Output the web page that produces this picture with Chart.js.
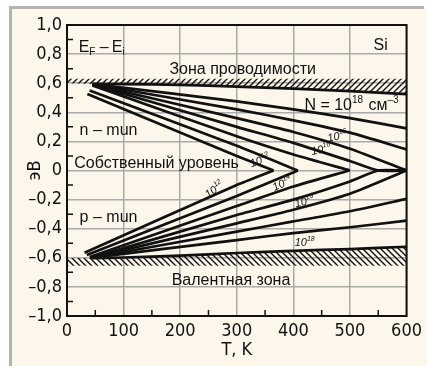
<!DOCTYPE html>
<html><head><meta charset="utf-8">
<script src="https://cdn.jsdelivr.net/npm/chart.js@4.4.0/dist/chart.umd.min.js"></script>
<style>html,body{margin:0;padding:0;background:#fff;}#wrap{width:427px;height:366px;position:relative;}</style>
</head><body><div id="wrap"><canvas id="c" width="427" height="366"></canvas></div>
<script>
// ---------- data ----------
const xTickLabels = ['0','100','200','300','400','500','600'];
const yTickLabels = ['–1,0','–0,8','–0,6','–0,4','–0,2','0','0,2','0,4','0,6','0,8','1,0'];
const xMinorTicks = [50,150,250,350,450,550];
const yMinorTicks = [-0.9,-0.7,-0.5,-0.3,-0.1,0.1,0.3,0.5,0.7,0.9];

// band edges (eV) vs T (K)
const bandT     = [0, 45, 100, 200, 300, 400, 500, 600];
const condBand  = [0.6, 0.595, 0.594, 0.588, 0.577, 0.563, 0.545, 0.525];
const valBand   = [-0.602, -0.602, -0.598, -0.585, -0.567, -0.552, -0.54, -0.524];
const hatchT    = [0, 600];
const hatchTopE = [0.63, 0.63];
const hatchBotE = [-0.655, -0.655];

// n-type branches, N = 1e12 ... 1e18
const n12T = [36, 300, 365],                 n12E = [0.525, 0.10, 0];
const n13T = [40, 300, 408],                 n13E = [0.55, 0.17, 0];
const n14T = [45, 300, 400, 500],            n14E = [0.585, 0.235, 0.11, 0];
const n15T = [45, 300, 400, 500, 550, 600],  n15E = [0.59, 0.30, 0.19, 0.065, 0, 0];
const n16T = [45, 300, 400, 500, 600],       n16E = [0.592, 0.36, 0.265, 0.15, 0];
const n17T = [45, 300, 400, 500, 600],       n17E = [0.593, 0.42, 0.345, 0.26, 0.145];
const n18T = [45, 300, 400, 500, 600],       n18E = [0.594, 0.475, 0.42, 0.36, 0.29];
// p-type branches
const p12T = [31, 300, 365],                 p12E = [-0.565, -0.10, 0];
const p13T = [35, 300, 408],                 p13E = [-0.58, -0.175, 0];
const p14T = [40, 300, 400, 499],            p14E = [-0.595, -0.244, -0.11, 0];
const p15T = [42, 300, 400, 500, 550, 600],  p15E = [-0.6, -0.306, -0.2, -0.075, 0, 0];
const p16T = [42, 300, 400, 500, 600],       p16E = [-0.6, -0.363, -0.27, -0.16, 0];
const p17T = [42, 300, 400, 500, 600],       p17E = [-0.6, -0.42, -0.35, -0.28, -0.195];
const p18T = [42, 300, 400, 500, 600],       p18E = [-0.6, -0.478, -0.43, -0.39, -0.345];

// text annotations (kind: 0 normal, 1 subscript, 2 superscript)
const textLabels = [
  {parts:[['E',0],['F',1],['\u2009–\u2009E',0],['i',1]], t:20.6, v:0.816},
  {parts:[['Si',0]], t:541.7, v:0.828},
  {parts:[['Зона проводимости',0]], t:181, v:0.663},
  {parts:[['N = 10',0],['18',2],[' см',0],['–3',2]], t:419.5, v:0.416},
  {parts:[['n – mun',0]], t:22.3, v:0.244},
  {parts:[['Собственный уровень',0]], t:12.9, v:0.015},
  {parts:[['p – mun',0]], t:22.3, v:-0.352},
  {parts:[['Валентная зона',0]], t:185, v:-0.787}
];
const curveLabels = [
  {base:'10', exp:'12', t:341, v:0.065, angle:-20},
  {base:'10', exp:'16', t:478, v:0.232, angle:-12},
  {base:'10', exp:'16', t:449, v:0.141, angle:-12},
  {base:'10', exp:'12', t:260.6, v:-0.134, angle:-35},
  {base:'10', exp:'14', t:380.6, v:-0.093, angle:-25},
  {base:'10', exp:'16', t:420, v:-0.216, angle:-15},
  {base:'10', exp:'18', t:420, v:-0.498, angle:0}
];

// ---------- helpers ----------
function pts(T, E){ return T.map((t,i)=>({x:t, y:E[i]})); }
function hatch(dir){
  const c = document.createElement('canvas'); c.width = 6; c.height = 6;
  const g = c.getContext('2d'); g.strokeStyle = '#111'; g.lineWidth = 1.4; g.beginPath();
  if (dir > 0){ g.moveTo(0,6); g.lineTo(6,0); g.moveTo(-1,1); g.lineTo(1,-1); g.moveTo(5,7); g.lineTo(7,5); }
  else { g.moveTo(0,0); g.lineTo(6,6); g.moveTo(-1,5); g.lineTo(1,7); g.moveTo(5,-1); g.lineTo(7,1); }
  g.stroke(); return g.createPattern(c, 'repeat');
}
const LINE = '#111';
function curve(T,E){ return {data:pts(T,E), borderColor:LINE, borderWidth:2.7, pointRadius:0, tension:0.2, fill:false}; }

const datasets = [
  {data:pts(bandT,condBand), borderWidth:0, borderColor:'rgba(0,0,0,0)', pointRadius:0, fill:false},
  {data:pts(hatchT,hatchTopE), borderWidth:0, borderColor:'rgba(0,0,0,0)', pointRadius:0, fill:'-1', backgroundColor:hatch(1)},
  {data:pts(bandT,valBand), borderWidth:0, borderColor:'rgba(0,0,0,0)', pointRadius:0, fill:false},
  {data:pts(hatchT,hatchBotE), borderWidth:0, borderColor:'rgba(0,0,0,0)', pointRadius:0, fill:'-1', backgroundColor:hatch(-1)},
  curve(bandT.slice(1), condBand.slice(1)),
  curve(bandT.slice(1), valBand.slice(1)),
  curve(n12T,n12E), curve(n13T,n13E), curve(n14T,n14E), curve(n15T,n15E),
  curve(n16T,n16E), curve(n17T,n17E), curve(n18T,n18E),
  curve(p12T,p12E), curve(p13T,p13E), curve(p14T,p14E), curve(p15T,p15E),
  curve(p16T,p16E), curve(p17T,p17E), curve(p18T,p18E)
];

const NARROW = '"Liberation Sans Narrow","DejaVu Sans Condensed","Arial Narrow",sans-serif';
const SANS = '"Liberation Sans",Arial,sans-serif';

const decor = {
  id:'decor',
  beforeDraw(chart){
    const ctx = chart.ctx; ctx.save();
    ctx.fillStyle = '#ffffff'; ctx.fillRect(0,0,427,366);
    ctx.fillStyle = '#fdf6ea'; ctx.fillRect(12,9,415,357);
    ctx.fillStyle = '#b3b3b3'; ctx.fillRect(9,6,415,3); ctx.fillRect(9,6,3,360);
    ctx.restore();
  },
  afterDatasetsDraw(chart){
    const ctx = chart.ctx, a = chart.chartArea, xs = chart.scales.x, ys = chart.scales.y;
    ctx.save();
    // minor ticks
    ctx.strokeStyle = '#111'; ctx.lineWidth = 1.5; ctx.beginPath();
    xMinorTicks.forEach(t=>{ const px = xs.getPixelForValue(t); ctx.moveTo(px,a.bottom); ctx.lineTo(px,a.bottom-6); });
    yMinorTicks.forEach(v=>{ const py = ys.getPixelForValue(v); ctx.moveTo(a.left,py); ctx.lineTo(a.left+6,py); });
    ctx.stroke();
    // frame
    ctx.lineWidth = 2; ctx.strokeRect(a.left, a.top, a.right-a.left, a.bottom-a.top);
    // text
    ctx.fillStyle = '#111'; ctx.textBaseline = 'alphabetic'; ctx.textAlign = 'left';
    textLabels.forEach(l=>{
      let x = xs.getPixelForValue(l.t); const y = ys.getPixelForValue(l.v);
      l.parts.forEach(([s,k])=>{
        const size = k===0 ? 16 : 10; const dy = k===1 ? 3 : (k===2 ? -7 : 0);
        ctx.font = size + 'px ' + SANS; ctx.fillText(s, x, y+dy); x += ctx.measureText(s).width + (k? 1:0);
      });
    });
    curveLabels.forEach(l=>{
      const x = xs.getPixelForValue(l.t), y = ys.getPixelForValue(l.v);
      ctx.save(); ctx.translate(x,y); ctx.rotate(l.angle*Math.PI/180);
      ctx.font = 'italic 11px ' + SANS; const w1 = ctx.measureText(l.base).width;
      ctx.font = 'italic 7px ' + SANS; const w2 = ctx.measureText(l.exp).width;
      let sx = -(w1+w2)/2; ctx.textBaseline = 'middle';
      ctx.font = 'italic 11px ' + SANS; ctx.fillText(l.base, sx, 0);
      ctx.font = 'italic 7px ' + SANS; ctx.fillText(l.exp, sx+w1, -4);
      ctx.restore();
    });
    ctx.restore();
  }
};

new Chart(document.getElementById('c'), {
  type:'line',
  data:{datasets},
  options:{
    responsive:false, animation:false, devicePixelRatio:1,
    layout:{padding:{left:0, right:10, top:25, bottom:0}},
    plugins:{legend:{display:false}, tooltip:{enabled:false}},
    elements:{point:{radius:0}},
    scales:{
      x:{type:'linear', min:0, max:600,
        afterFit(s){ s.height = 50; },
        ticks:{stepSize:100, padding:5, color:'#111', font:{family:NARROW, size:18},
          callback:(v,i)=>xTickLabels[i]},
        grid:{color:'#aaaaaa', lineWidth:1.5, drawTicks:false},
        border:{display:false},
        title:{display:true, text:'T, K', color:'#111', font:{family:NARROW, size:18}, padding:{top:0,bottom:5}}
      },
      y:{type:'linear', min:-1, max:1,
        afterFit(s){ s.width = 67; },
        ticks:{stepSize:0.2, padding:5, color:'#111', font:{family:NARROW, size:18},
          callback:(v,i)=>yTickLabels[i]},
        grid:{color:'#aaaaaa', lineWidth:1.5, drawTicks:false},
        border:{display:false},
        title:{display:true, text:'эВ', color:'#111', font:{family:NARROW, size:18}, padding:{top:25,bottom:0}}
      }
    }
  },
  plugins:[decor]
});
</script></body></html>
